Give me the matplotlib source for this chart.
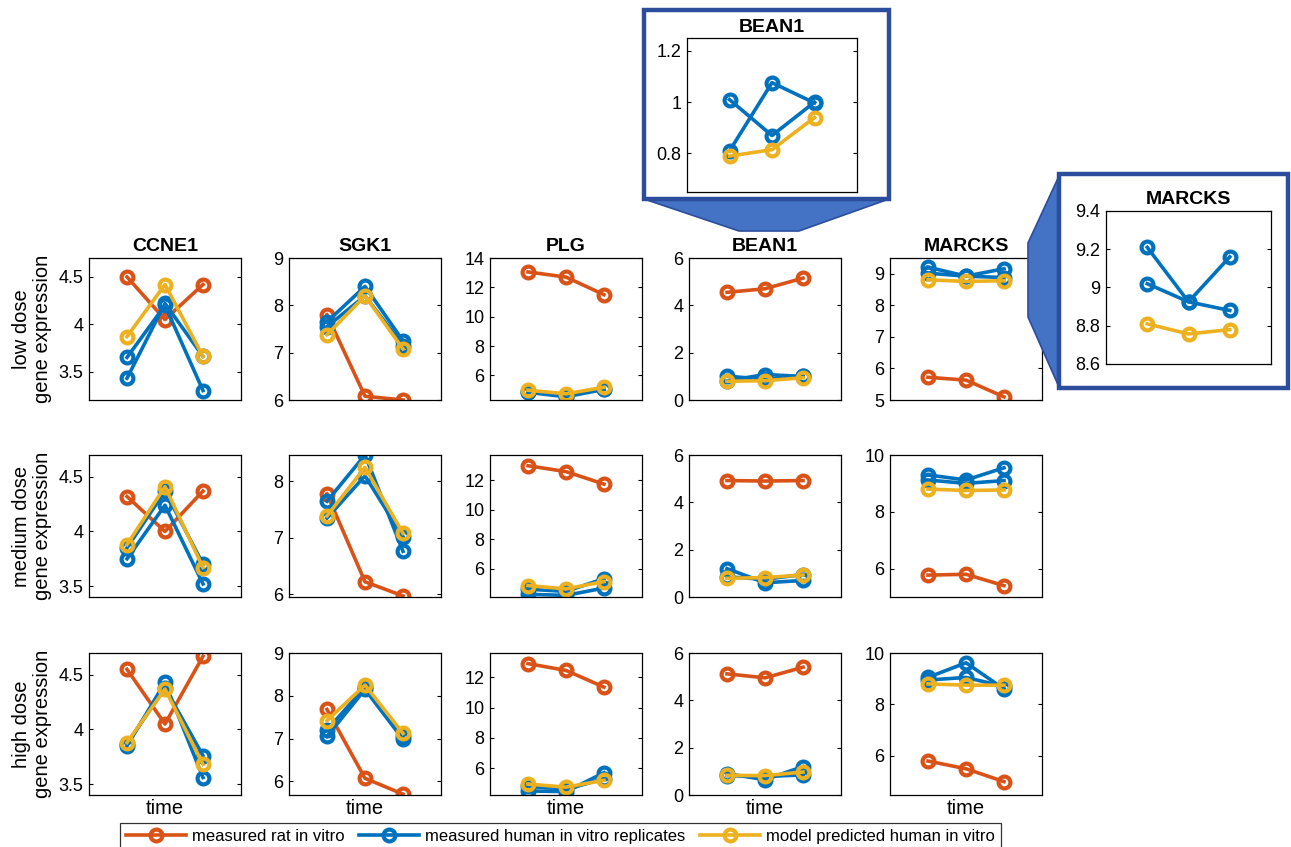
import numpy as np
import matplotlib.pyplot as plt
from matplotlib.patches import Rectangle, Polygon
from matplotlib.ticker import FormatStrFormatter

plt.rcParams['font.family'] = ['Liberation Sans', 'DejaVu Sans']

W, H = 1291, 847
RED, BLUE, YEL = '#D95319', '#0072BD', '#EDB120'
FRAME, FILL = '#2C4D9C', '#4472C4'

genes = ['CCNE1', 'SGK1', 'PLG', 'BEAN1', 'MARCKS']
doses = ['low dose', 'medium dose', 'high dose']
t = [1, 2, 3]

# one row per gene
rat_low = [[4.50, 4.05, 4.42], [7.80, 6.08, 6.00], [13.05, 12.70, 11.50], [4.55, 4.70, 5.15], [5.72, 5.63, 5.10]]
human_low = [[[3.65, 4.20, 3.30], [3.43, 4.22, 3.66]],
             [[7.65, 8.40, 7.25], [7.55, 8.20, 7.15]],
             [[4.90, 4.60, 5.10], [4.85, 4.55, 5.05]],
             [[1.01, 0.87, 1.00], [0.81, 1.076, 0.997]],
             [[9.21, 8.925, 8.88], [9.02, 8.925, 9.16]]]
model_low = [[3.87, 4.42, 3.66], [7.38, 8.20, 7.08], [5.00, 4.75, 5.20], [0.79, 0.815, 0.94], [8.81, 8.757, 8.78]]

rat_med = [[4.32, 4.00, 4.37], [7.78, 6.22, 5.97], [13.00, 12.60, 11.75], [4.92, 4.90, 4.92], [5.77, 5.80, 5.40]]
human_med = [[[3.75, 4.24, 3.52], [3.85, 4.37, 3.70]],
             [[7.65, 8.47, 6.76], [7.35, 8.10, 7.02]],
             [[4.25, 4.18, 4.68], [4.60, 4.45, 5.32]],
             [[1.20, 0.60, 0.70], [0.85, 0.75, 0.95]],
             [[9.30, 9.12, 9.55], [9.12, 9.00, 9.10]]]
model_med = [[3.88, 4.41, 3.67], [7.39, 8.25, 7.08], [4.85, 4.62, 5.12], [0.79, 0.82, 0.93], [8.80, 8.75, 8.77]]

rat_high = [[4.55, 4.05, 4.67], [7.68, 6.07, 5.70], [12.90, 12.45, 11.35], [5.12, 4.95, 5.40], [5.80, 5.50, 5.00]]
human_high = [[[3.85, 4.43, 3.56], [3.87, 4.38, 3.76]],
              [[7.05, 8.15, 6.98], [7.20, 8.20, 7.05]],
              [[4.50, 4.45, 5.70], [4.80, 4.60, 5.30]],
              [[0.90, 0.65, 1.20], [0.82, 0.78, 0.85]],
              [[9.05, 9.62, 8.60], [8.95, 9.05, 8.70]]]
model_high = [[3.88, 4.37, 3.68], [7.42, 8.25, 7.12], [4.95, 4.75, 5.20], [0.83, 0.82, 0.97], [8.80, 8.75, 8.75]]

rat = [rat_low, rat_med, rat_high]
human = [human_low, human_med, human_high]
model = [model_low, model_med, model_high]

ylims = [[(3.2, 4.7), (6, 9), (4.33, 14), (0, 6), (5, 9.5)],
         [(3.4, 4.7), (5.95, 8.47), (4.07, 13.73), (0, 6), (5, 10)],
         [(3.4, 4.7), (5.68, 9), (4.23, 13.6), (0, 6), (4.48, 10)]]
yticks = [[[3.5, 4, 4.5], [6, 7, 8, 9], [6, 8, 10, 12, 14], [0, 2, 4, 6], [5, 6, 7, 8, 9]],
          [[3.5, 4, 4.5], [6, 7, 8], [6, 8, 10, 12], [0, 2, 4, 6], [6, 8, 10]],
          [[3.5, 4, 4.5], [6, 7, 8, 9], [6, 8, 10, 12], [0, 2, 4, 6], [6, 8, 10]]]

legend_labels = ['measured rat in vitro', 'measured human in vitro replicates', 'model predicted human in vitro']

fig = plt.figure(figsize=(W / 100, H / 100), dpi=100)


def box(l, top, w, h):
    return [l / W, 1 - (top + h) / H, w / W, h / H]


def style(ax, ylim, ticks):
    ax.set_xlim(0, 4)
    ax.set_ylim(*ylim)
    ax.set_xticks([])
    ax.set_yticks(ticks)
    ax.yaxis.set_major_formatter(FormatStrFormatter('%g'))
    ax.tick_params(axis='y', direction='in', right=True, length=3, width=0.8, labelsize=13, pad=4)
    for s in ax.spines.values():
        s.set_linewidth(0.9)


kw = dict(marker='o', ms=8.5, mew=3.0, mfc='none', lw=2.6)


def draw(ax, r, hum, m):
    lines = []
    lines += ax.plot(t, r, color=RED, **kw)
    for rep in hum:
        lb = ax.plot(t, rep, color=BLUE, **kw)
    lines += lb
    lines += ax.plot(t, m, color=YEL, **kw)
    return lines


col_left = [89, 289, 490, 689, 890]
row_top = [258, 455, 653]
aw, ah = 152, 142

handles = None
for i in range(3):
    for j in range(5):
        ax = fig.add_axes(box(col_left[j], row_top[i], aw, ah))
        lines = draw(ax, rat[i][j], human[i][j], model[i][j])
        if handles is None:
            handles = lines
        style(ax, ylims[i][j], yticks[i][j])
        if i == 0:
            ax.set_title(genes[j], fontsize=14, fontweight='bold', pad=5)
        if i == 2:
            ax.set_xlabel('time', fontsize=14.5, labelpad=3)
    fig.text(32 / W, 1 - (row_top[i] + ah / 2) / H, doses[i] + '\ngene expression',
             rotation=90, ha='center', va='center', fontsize=14.5, linespacing=1.1)

# zoom frames and connectors
ov = fig.add_axes([0, 0, 1, 1], zorder=2)
ov.set_xlim(0, W)
ov.set_ylim(H, 0)
ov.axis('off')
ov.add_patch(Polygon([(644, 199), (889, 199), (799, 231), (739, 231)], closed=True,
                     facecolor=FILL, edgecolor=FRAME, lw=1.2))
ov.add_patch(Rectangle((644, 10), 245, 189, facecolor='white', edgecolor=FRAME, lw=3.2))
ov.add_patch(Polygon([(1059, 176), (1059, 387), (1028, 317), (1028, 243)], closed=True,
                     facecolor=FILL, edgecolor=FRAME, lw=1.2))
ov.add_patch(Rectangle((1059, 174), 229, 214, facecolor='white', edgecolor=FRAME, lw=3.2))

# insets
ins1 = fig.add_axes(box(687, 38, 170, 154), zorder=3)
draw(ins1, rat_low[3], human_low[3], model_low[3])
style(ins1, (0.65, 1.25), [0.8, 1, 1.2])
ins1.set_title('BEAN1', fontsize=14, fontweight='bold', pad=4)

ins2 = fig.add_axes(box(1106, 211, 165, 153), zorder=3)
draw(ins2, rat_low[4], human_low[4], model_low[4])
style(ins2, (8.6, 9.4), [8.6, 8.8, 9, 9.2, 9.4])
ins2.set_title('MARCKS', fontsize=14, fontweight='bold', pad=5)

leg = fig.legend(handles, legend_labels, loc='upper left', bbox_to_anchor=(120 / W, 1 - 823 / H),
                 ncol=3, fontsize=12, frameon=True, fancybox=False, edgecolor='black',
                 handlelength=3.6, handletextpad=0.35, columnspacing=0.9, borderpad=0.35,
                 borderaxespad=0)
leg.get_frame().set_linewidth(0.9)

fig.savefig('out.png', dpi=100)
